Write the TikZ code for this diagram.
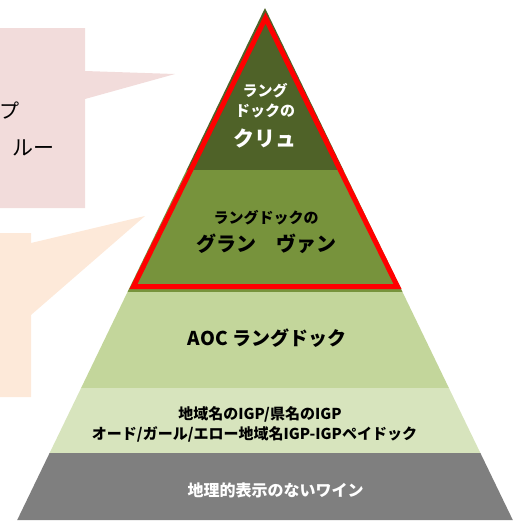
\documentclass[tikz,border=0pt]{standalone}
\usepackage{fontspec}
\setmainfont{Noto Sans CJK JP}
\newfontfamily\jp{Noto Sans CJK JP}
\definecolor{dkgreen}{HTML}{4F6228}
\definecolor{mdgreen}{HTML}{77933C}
\definecolor{ltgreen}{HTML}{C3D69B}
\definecolor{pgreen}{HTML}{D7E4BD}
\definecolor{grayband}{HTML}{7F7F7F}
\definecolor{pinkbox}{HTML}{F2DCDB}
\definecolor{orangebox}{HTML}{FDE9D9}
\tikzset{
  lbl/.style={inner sep=0pt, align=center, font=\jp\bfseries},
  wlbl/.style={lbl, text=white},
  blbl/.style={lbl, text=black},
}
\begin{document}
\begin{tikzpicture}[x=1pt,y=-1pt]
\useasboundingbox (0,0) rectangle (528,520);
\clip (0,0) rectangle (528,520);
% callouts
\fill[pinkbox] (0,28) -- (85,28) -- (85,71) -- (175,74) -- (85,99) -- (85,208) -- (0,208) -- cycle;
\fill[orangebox] (0,233) -- (31,233) -- (31,243) -- (145,216) -- (31,315) -- (31,397) -- (0,397) -- cycle;
\node[inner sep=0pt, anchor=west, font=\jp\fontsize{20}{20}\selectfont] (c1) at (-1,111) {プ};
\node[inner sep=0pt, anchor=west, font=\jp\fontsize{21}{21}\selectfont] (c2) at (12,148) {ルー};
% pyramid bands
\fill[dkgreen] (265,8) -- (343.4,170) -- (186.6,170) -- cycle;
\fill[mdgreen] (186.6,170) -- (343.4,170) -- (402.5,292) -- (127.5,292) -- cycle;
\fill[ltgreen] (127.5,292) -- (402.5,292) -- (448.9,388) -- (81.1,388) -- cycle;
\fill[pgreen] (81.1,388) -- (448.9,388) -- (480.4,453) -- (49.6,453) -- cycle;
\fill[grayband] (49.6,453) -- (480.4,453) -- (512.8,520) -- (17.2,520) -- cycle;
% red outline
\draw[red, line width=5pt, line join=miter] (265.5,18) -- (397.5,286.5) -- (133.5,286.5) -- cycle;
% labels
\node[wlbl, font=\jp\bfseries\fontsize{15}{15}\selectfont] (t1) at (265,91) {ラング};
\node[wlbl, font=\jp\bfseries\fontsize{15}{15}\selectfont] (t2) at (265,111) {ドックの};
\node[wlbl, font=\jp\bfseries\fontsize{21}{21}\selectfont] (t3) at (265,138) {クリュ};
\node[blbl, font=\jp\bfseries\fontsize{15}{15}\selectfont] (g1) at (266,218) {ラングドックの};
\node[blbl, font=\jp\bfseries\fontsize{20}{20}\selectfont] (g2) at (266,244) {グラン　ヴァン};
\node[blbl, font=\jp\bfseries\fontsize{19}{19}\selectfont] (a1) at (267,338) {AOC ラングドック};
\node[blbl, font=\jp\bfseries\fontsize{15}{15}\selectfont] (i1) at (260,414) {地域名のIGP/県名のIGP};
\node[blbl, font=\jp\bfseries\fontsize{15}{15}\selectfont] (i2) at (254.5,434) {オード/ガール/エロー地域名IGP-IGPペイドック};
\node[wlbl, font=\jp\bfseries\fontsize{16}{16}\selectfont] (v1) at (275.5,490) {地理的表示のないワイン};
\end{tikzpicture}
\end{document}
